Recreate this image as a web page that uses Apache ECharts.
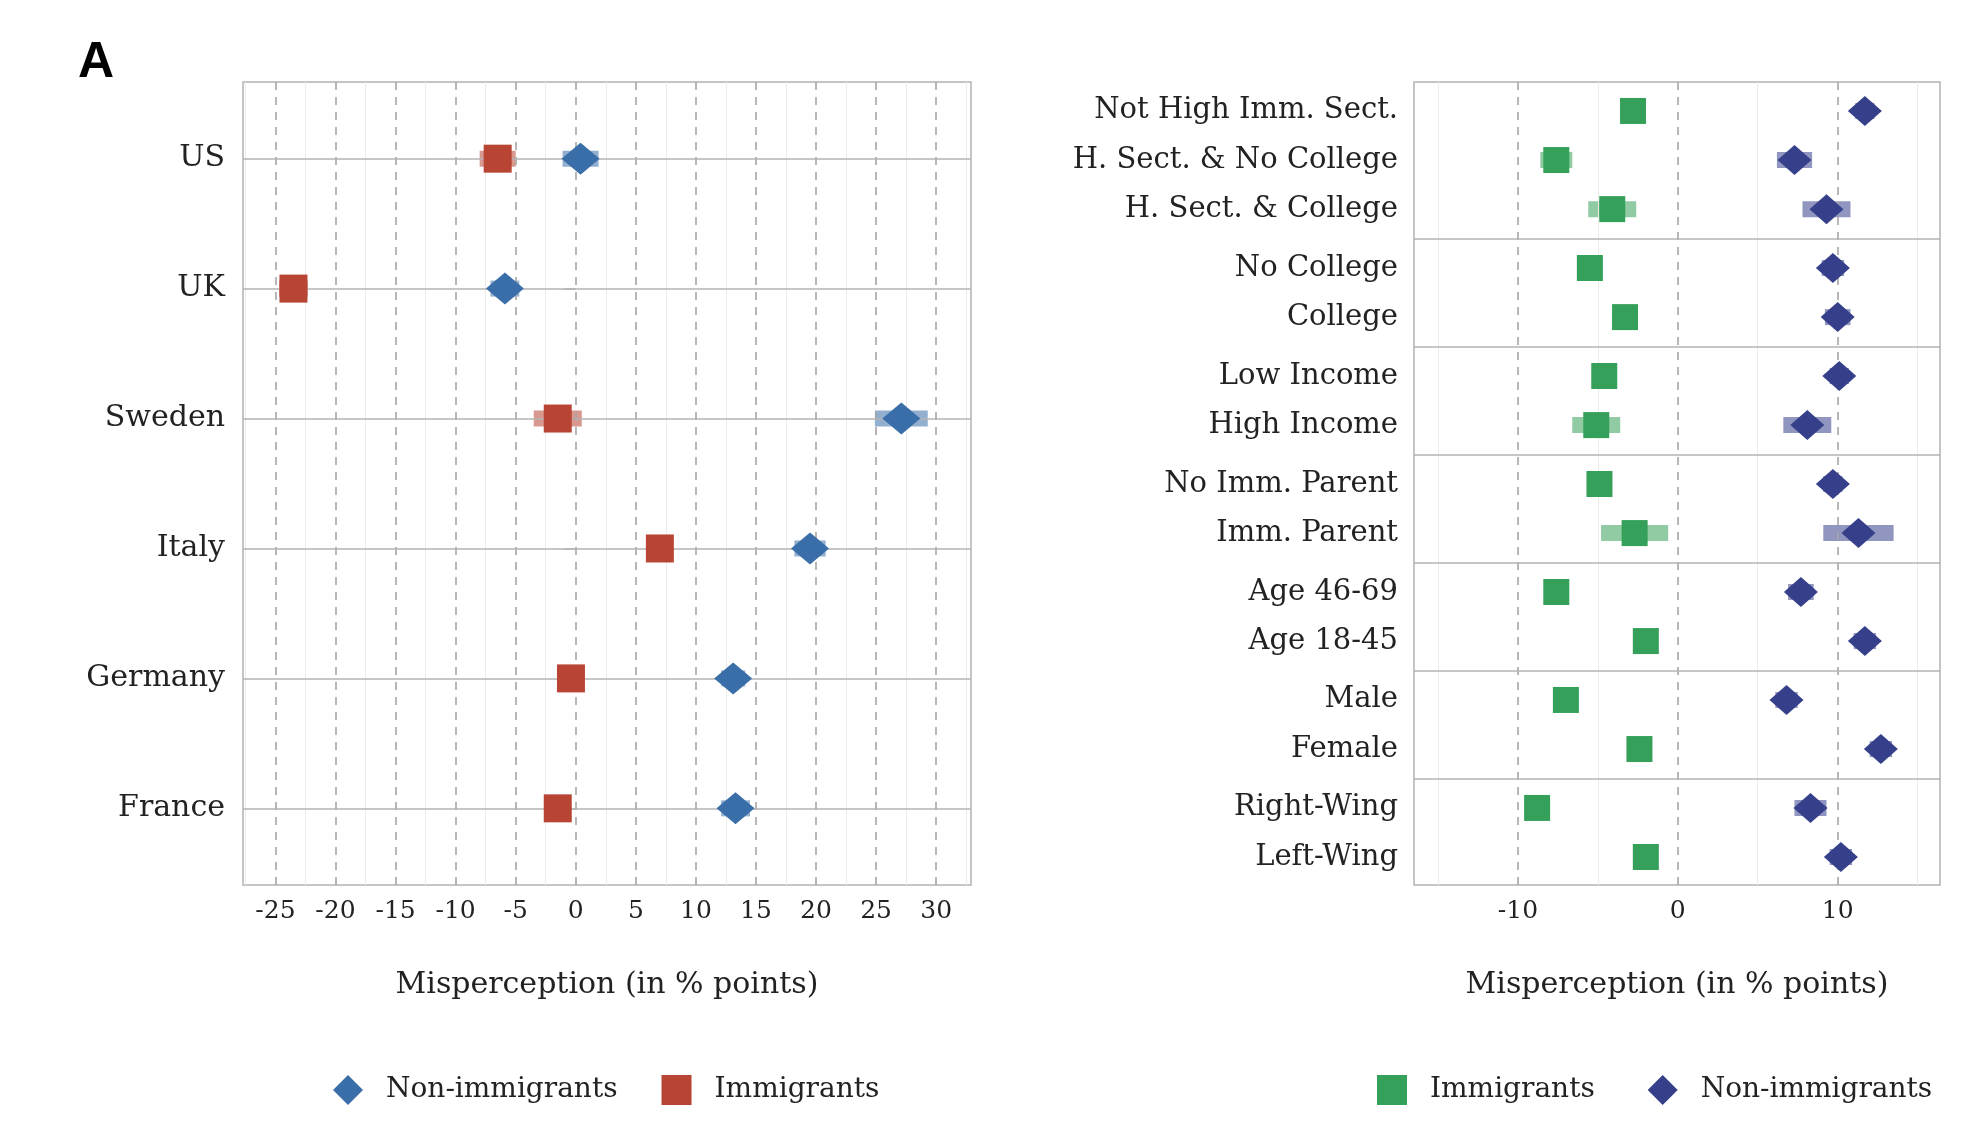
<!DOCTYPE html>
<html>
<head>
<meta charset="utf-8">
<script src="https://cdn.jsdelivr.net/npm/echarts@6/dist/echarts.min.js"></script>
<style>html,body{margin:0;padding:0;background:#fff}#c{width:1964px;height:1130px}</style>
</head>
<body>
<div id="c"></div>
<script>
// left panel: countries
var countries = ['US', 'UK', 'Sweden', 'Italy', 'Germany', 'France'];
var cImm = [-6.5, -23.5, -1.5, 7.0, -0.4, -1.5];
var cImmCi = [1.5, 1.2, 2.0, 1.0, 1.0, 1.0];
var cNon = [0.4, -5.9, 27.1, 19.5, 13.1, 13.3];
var cNonCi = [1.5, 1.2, 2.2, 1.3, 1.0, 1.2];
var leftTicks = [-25, -20, -15, -10, -5, 0, 5, 10, 15, 20, 25, 30];

// right panel: subgroups
var groups = ['Not High Imm. Sect.', 'H. Sect. & No College', 'H. Sect. & College',
    'No College', 'College', 'Low Income', 'High Income', 'No Imm. Parent', 'Imm. Parent',
    'Age 46-69', 'Age 18-45', 'Male', 'Female', 'Right-Wing', 'Left-Wing'];
var groupSizes = [3, 2, 2, 2, 2, 2, 2];
var gImm = [-2.8, -7.6, -4.1, -5.5, -3.3, -4.6, -5.1, -4.9, -2.7, -7.6, -2.0, -7.0, -2.4, -8.8, -2.0];
var gImmCi = [0.5, 1.0, 1.5, 0.6, 0.7, 0.5, 1.5, 0.5, 2.1, 0.7, 0.7, 0.7, 0.7, 0.8, 0.6];
var gNon = [11.7, 7.3, 9.3, 9.7, 10.0, 10.1, 8.1, 9.7, 11.3, 7.7, 11.7, 6.8, 12.7, 8.3, 10.2];
var gNonCi = [0.6, 1.1, 1.5, 0.7, 0.8, 0.6, 1.5, 0.6, 2.2, 0.8, 0.7, 0.7, 0.7, 1.0, 0.7];
var rightTicks = [-10, 0, 10];

// row positions with a small gap between blocks
var gap = 0.2, pos = [], seps = [], k = 0;
groupSizes.forEach(function (n, g) {
    for (var j = 0; j < n; j++) { pos.push(0.59 + k + g * gap); k++; }
    if (g < groupSizes.length - 1) seps.push(pos[pos.length - 1] + 0.6);
});
var rightMax = pos[pos.length - 1] + 0.57;

var serif = 'DejaVu Serif';
var grey = '#b3b3b3';

function vline(vals, dashed, color) {
    return vals.map(function (v) {
        return { xAxis: v, lineStyle: { type: dashed ? [8, 7] : 'solid', color: color, width: dashed ? 1.6 : 1 } };
    });
}
function errBars(xi, yi, vals, ci, ys, color) {
    return {
        type: 'custom', xAxisIndex: xi, yAxisIndex: yi, z: 2, silent: true,
        data: vals.map(function (v, i) { return [v - ci[i], v + ci[i], ys[i]]; }),
        renderItem: function (params, api) {
            var a = api.coord([api.value(0), api.value(2)]);
            var b = api.coord([api.value(1), api.value(2)]);
            return { type: 'rect', shape: { x: a[0], y: a[1] - 8, width: b[0] - a[0], height: 16 },
                style: { fill: color, opacity: 0.55 } };
        }
    };
}
function points(name, xi, yi, vals, ys, symbol, size, color) {
    return {
        name: name, type: 'scatter', xAxisIndex: xi, yAxisIndex: yi, z: 5,
        symbol: symbol, symbolSize: size, itemStyle: { color: color, opacity: 1 },
        data: vals.map(function (v, i) { return [v, ys[i]]; })
    };
}

var leftY = countries.map(function (c, i) { return i + 1; });
var minorL = leftTicks.map(function (v) { return v + 2.5; }).concat([-27.5]).filter(function (v) { return v < 32.9; });
var minorR = [-15, -5, 5, 15];

var blue = '#3a6ea8', red = '#b84434', green = '#35a05a', navy = '#353f8a';

var chart = echarts.init(document.getElementById('c'));
chart.setOption({
    backgroundColor: '#fff',
    animation: false,
    graphic: [{ type: 'text', left: 78, top: 38, style: { text: 'A', font: 'bold 50px "Liberation Sans"', fill: '#000' } }],
    grid: [
        { left: 243, right: 993, top: 82, bottom: 245, show: true, borderColor: grey, borderWidth: 1.5 },
        { left: 1414, right: 24, top: 82, bottom: 245, show: true, borderColor: grey, borderWidth: 1.5 }
    ],
    xAxis: [
        { type: 'value', gridIndex: 0, min: -27.7, max: 32.9, splitLine: { show: false },
          axisLine: { show: false }, axisTick: { show: false },
          axisLabel: { customValues: leftTicks, fontFamily: serif, fontSize: 25, color: '#222', margin: 14 },
          name: 'Misperception (in % points)', nameLocation: 'middle', nameGap: 85,
          nameTextStyle: { fontFamily: serif, fontSize: 30, color: '#222' } },
        { type: 'value', gridIndex: 1, min: -16.5, max: 16.4, splitLine: { show: false },
          axisLine: { show: false }, axisTick: { show: false },
          axisLabel: { customValues: rightTicks, fontFamily: serif, fontSize: 25, color: '#222', margin: 14 },
          name: 'Misperception (in % points)', nameLocation: 'middle', nameGap: 85,
          nameTextStyle: { fontFamily: serif, fontSize: 30, color: '#222' } }
    ],
    yAxis: [
        { type: 'value', gridIndex: 0, inverse: true, min: 0.41, max: 6.59, splitLine: { show: false },
          axisLine: { show: false },
          axisTick: { show: true, customValues: leftY, length: 12, lineStyle: { color: grey, width: 1.5 } },
          axisLabel: { customValues: leftY, fontFamily: serif, fontSize: 30, color: '#222', margin: 18,
              formatter: function (v) { return countries[Math.round(v) - 1] || ''; } } },
        { type: 'value', gridIndex: 1, inverse: true, min: 0, max: rightMax, splitLine: { show: false },
          axisLine: { show: false }, axisTick: { show: false },
          axisLabel: { customValues: pos, fontFamily: serif, fontSize: 29, color: '#222', margin: 16,
              formatter: function (v) {
                  var best = 0;
                  pos.forEach(function (p, i) { if (Math.abs(p - v) < Math.abs(pos[best] - v)) best = i; });
                  return groups[best];
              } } }
    ],
    legend: [
        { left: 328, top: 1070, itemWidth: 30, itemHeight: 30, itemGap: 44,
          textStyle: { fontFamily: serif, fontSize: 28, color: '#222', padding: [0, 0, 0, 18] },
          data: [{ name: 'Non-immigrants', icon: 'diamond' }, { name: 'Immigrants', icon: 'rect' }] },
        { left: 1372, top: 1070, itemWidth: 30, itemHeight: 30, itemGap: 44,
          textStyle: { fontFamily: serif, fontSize: 28, color: '#222', padding: [0, 0, 0, 18] },
          data: [{ name: 'Immigrants ', icon: 'rect' }, { name: 'Non-immigrants ', icon: 'diamond' }] }
    ],
    series: [
        { type: 'scatter', xAxisIndex: 0, yAxisIndex: 0, data: [], silent: true, z: 1,
          markLine: { silent: true, symbol: 'none', label: { show: false }, animation: false,
              data: vline(minorL, false, '#ebebeb').concat(vline(leftTicks, true, '#a6a6a6'))
                  .concat(leftY.map(function (y) { return { yAxis: y, lineStyle: { type: 'solid', color: grey, width: 1.5 } }; })) } },
        { type: 'scatter', xAxisIndex: 1, yAxisIndex: 1, data: [], silent: true, z: 1,
          markLine: { silent: true, symbol: 'none', label: { show: false }, animation: false,
              data: vline(minorR, false, '#ebebeb').concat(vline(rightTicks, true, '#a6a6a6'))
                  .concat(seps.map(function (y) { return { yAxis: y, lineStyle: { type: 'solid', color: grey, width: 1.5 } }; })) } },
        errBars(0, 0, cImm, cImmCi, leftY, red),
        errBars(0, 0, cNon, cNonCi, leftY, blue),
        errBars(1, 1, gImm, gImmCi, pos, green),
        errBars(1, 1, gNon, gNonCi, pos, navy),
        points('Non-immigrants', 0, 0, cNon, leftY, 'diamond', [38, 32], blue),
        points('Immigrants', 0, 0, cImm, leftY, 'rect', 28, red),
        points('Immigrants ', 1, 1, gImm, pos, 'rect', 26, green),
        points('Non-immigrants ', 1, 1, gNon, pos, 'diamond', [34, 30], navy)
    ]
});
</script>
</body>
</html>
